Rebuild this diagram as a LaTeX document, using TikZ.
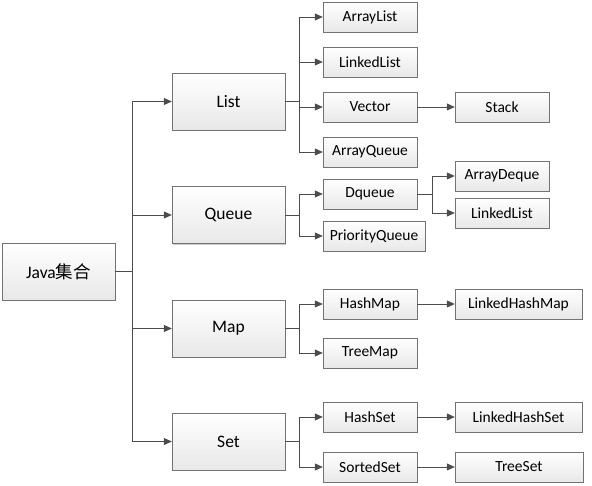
\documentclass[tikz,border=0pt]{standalone}
\usepackage{fontspec}
\setmainfont{Carlito}
\newfontfamily\cjk{Noto Sans CJK SC}
\usetikzlibrary{arrows.meta,shadows}
\begin{document}
\begin{tikzpicture}[x=1pt, y=-1pt,
		box/.style={draw=black!55, top color=white, bottom color=black!9,
			drop shadow={shadow xshift=1.2pt, shadow yshift=-1.2pt, fill=black!35, opacity=.6},
			inner sep=0pt, minimum width=94pt, minimum height=30pt,
			font=\fontsize{15.5}{18}\selectfont},
		bigbox/.style={box, minimum width=113pt, minimum height=57pt,
			font=\fontsize{17.5}{20}\selectfont},
		line/.style={draw=black!70, line width=0.8pt},
		arr/.style={line, -{Triangle[length=8pt,width=7pt]}}]
		\useasboundingbox (0,0) rectangle (592,486);
		% first level
		\node[bigbox] (java) at (58.5,271.5) {Java{\cjk 集合}};
		\node[bigbox] (list) at (228.5,101.5) {List};
		\node[bigbox] (queue) at (228.5,215) {Queue};
		\node[bigbox] (map) at (228.5,328.5) {Map};
		\node[bigbox] (set) at (228.5,441.5) {Set};
		% second level
		\node[box] (arraylist) at (370,17) {ArrayList};
		\node[box] (linkedlist) at (370,62) {LinkedList};
		\node[box] (vector) at (370,107) {Vector};
		\node[box] (arrayqueue) at (370,152) {ArrayQueue};
		\node[box] (dqueue) at (370,194) {Dqueue};
		\node[box, minimum width=102pt] (priorityqueue) at (374,236) {PriorityQueue};
		\node[box] (hashmap) at (370,304) {HashMap};
		\node[box] (treemap) at (370,353) {TreeMap};
		\node[box] (hashset) at (370,417) {HashSet};
		\node[box] (sortedset) at (370,467) {SortedSet};
		% third level
		\node[box] (stack) at (502,107) {Stack};
		\node[box] (arraydeque) at (502,176) {ArrayDeque};
		\node[box] (linkedlisttwo) at (502,213) {LinkedList};
		\node[box, minimum width=127pt] (linkedhashmap) at (518.5,304) {LinkedHashMap};
		\node[box, minimum width=127pt] (linkedhashset) at (518.5,417) {LinkedHashSet};
		\node[box, minimum width=128pt] (treeset) at (519,467) {TreeSet};
		% connectors
		\draw[line] (java.east) -- ++(17,0) coordinate (trunk);
		\foreach \n in {list,queue,map,set}
			\draw[arr] (trunk) |- (\n.west);
		\draw[line] (list.east) -- ++(14,0) coordinate (listfork);
		\foreach \n in {arraylist,linkedlist,vector,arrayqueue}
			\draw[arr] (listfork) |- (\n.west);
		\draw[line] (queue.east) -- ++(14,0) coordinate (queuefork);
		\foreach \n in {dqueue,priorityqueue}
			\draw[arr] (queuefork) |- (\n.west);
		\draw[line] (map.east) -- ++(14,0) coordinate (mapfork);
		\foreach \n in {hashmap,treemap}
			\draw[arr] (mapfork) |- (\n.west);
		\draw[line] (set.east) -- ++(14,0) coordinate (setfork);
		\foreach \n in {hashset,sortedset}
			\draw[arr] (setfork) |- (\n.west);
		\draw[line] (dqueue.east) -- ++(15,0) coordinate (dqueuefork);
		\foreach \n in {arraydeque,linkedlisttwo}
			\draw[arr] (dqueuefork) |- (\n.west);
		\draw[arr] (vector) -- (stack);
		\draw[arr] (hashmap) -- (linkedhashmap);
		\draw[arr] (hashset) -- (linkedhashset);
		\draw[arr] (sortedset) -- (treeset);
\end{tikzpicture}
\end{document}
